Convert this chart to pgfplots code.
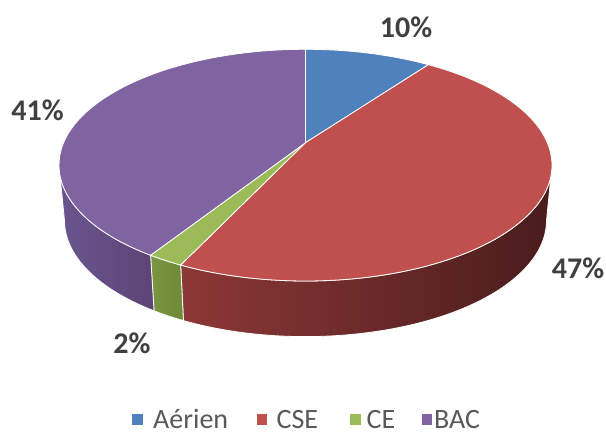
\documentclass[border=0pt]{standalone}
\usepackage{fontspec}
\setmainfont{Carlito}
\usepackage{pgfplots}
\usepackage{pgfplotstable}
\pgfplotsset{compat=1.18}
\definecolor{cA}{HTML}{4F81BD}
\definecolor{cB}{HTML}{C0504D}
\definecolor{cC}{HTML}{9BBB59}
\definecolor{cD}{HTML}{8064A2}
\definecolor{sBl}{HTML}{8C3836}
\definecolor{sBr}{HTML}{4A1C1D}
\definecolor{sCl}{HTML}{7A9640}
\definecolor{sCr}{HTML}{6E8A38}
\definecolor{sDl}{HTML}{6B558F}
\definecolor{sDr}{HTML}{5C4475}
\definecolor{lblgray}{HTML}{404040}
\definecolor{leggray}{HTML}{595959}
\pgfplotstableread{
label value
Aerien 10
CSE 47
CE 2
BAC 41
}\piedata
\pgfplotstablegetelem{0}{value}\of\piedata\pgfmathsetmacro\vA{\pgfplotsretval}%
\pgfplotstablegetelem{1}{value}\of\piedata\pgfmathsetmacro\vB{\pgfplotsretval}%
\pgfplotstablegetelem{2}{value}\of\piedata\pgfmathsetmacro\vC{\pgfplotsretval}%
\pgfplotstablegetelem{3}{value}\of\piedata\pgfmathsetmacro\vD{\pgfplotsretval}%
\pgfmathtruncatemacro\lA{round(\vA)}%
\pgfmathtruncatemacro\lB{round(\vB)}%
\pgfmathtruncatemacro\lC{round(\vC)}%
\pgfmathtruncatemacro\lD{round(\vD)}%
% perspective: angle theta (clockwise from top) -> angle phi on the projected ellipse
\newcommand\phiof[2]{%
  \pgfmathsetmacro\dd{1+0.1938*cos(#1)}%
  \pgfmathsetmacro\xx{241.8*sin(#1)/\dd/246.5}%
  \pgfmathsetmacro\yy{(22.45+111.5*cos(#1)/\dd)/115.85}%
  \pgfmathsetmacro\raw{atan2(\yy,\xx)}%
  \pgfmathsetmacro#2{\raw+360*round(((90-#1)-\raw)/360)}%
}
\pgfmathsetmacro\tAB{3.6*\vA}%
\pgfmathsetmacro\tBC{3.6*(\vA+\vB)}%
\pgfmathsetmacro\tCD{3.6*(\vA+\vB+\vC)}%
\phiof{\tAB}{\pAB}%
\phiof{\tBC}{\pBC}%
\phiof{\tCD}{\pCD}%
% top ellipse: centre (305.5,267.85), radii 246.5, 115.85 ; bottom: (305.5,212.4), 241, 116
\newcommand\topxy[3]{%
  \pgfmathsetmacro#2{305.5+246.5*cos(#1)}%
  \pgfmathsetmacro#3{267.85+115.85*sin(#1)}%
}
\newcommand\botxy[3]{%
  \pgfmathsetmacro#2{305.5+241*cos(#1)}%
  \pgfmathsetmacro#3{212.4+116*sin(#1)}%
}
\topxy{90}{\TxO}{\TyO}%
\topxy{\pAB}{\TxAB}{\TyAB}%
\topxy{\pBC}{\TxBC}{\TyBC}%
\topxy{\pCD}{\TxCD}{\TyCD}%
\topxy{0}{\TxR}{\TyR}%
\botxy{\pBC}{\BxBC}{\ByBC}%
\botxy{\pCD}{\BxCD}{\ByCD}%
\botxy{0}{\BxR}{\ByR}%
\botxy{-180}{\BxL}{\ByL}%
\begin{document}
\begin{tikzpicture}
\begin{axis}[scale only axis, width=606pt, height=433pt,
  xmin=0, xmax=606, ymin=0, ymax=433, hide axis, clip=false]
\path (axis cs:0,0) rectangle (axis cs:606,433);
% side faces
\shade[left color=sBl, right color=sBr, draw=white, line width=0.8pt, line join=round]
  (axis cs:\TxR,\TyR) arc[start angle=0, end angle=\pBC, x radius=246.5pt, y radius=115.85pt]
  -- (axis cs:\BxBC,\ByBC) arc[start angle=\pBC, end angle=0, x radius=241pt, y radius=116pt] -- cycle;
\shade[left color=sCl, right color=sCr, draw=white, line width=0.8pt, line join=round]
  (axis cs:\TxBC,\TyBC) arc[start angle=\pBC, end angle=\pCD, x radius=246.5pt, y radius=115.85pt]
  -- (axis cs:\BxCD,\ByCD) arc[start angle=\pCD, end angle=\pBC, x radius=241pt, y radius=116pt] -- cycle;
\shade[left color=sDl, right color=sDr, draw=white, line width=0.8pt, line join=round]
  (axis cs:\TxCD,\TyCD) arc[start angle=\pCD, end angle=-180, x radius=246.5pt, y radius=115.85pt]
  -- (axis cs:\BxL,\ByL) arc[start angle=-180, end angle=\pCD, x radius=241pt, y radius=116pt] -- cycle;
% top faces
\filldraw[fill=cA, draw=white, line width=0.8pt, line join=round]
  (axis cs:305.5,290.3) -- (axis cs:\TxO,\TyO) arc[start angle=90, end angle=\pAB, x radius=246.5pt, y radius=115.85pt] -- cycle;
\filldraw[fill=cB, draw=white, line width=0.8pt, line join=round]
  (axis cs:305.5,290.3) -- (axis cs:\TxAB,\TyAB) arc[start angle=\pAB, end angle=\pBC, x radius=246.5pt, y radius=115.85pt] -- cycle;
\filldraw[fill=cC, draw=white, line width=0.8pt, line join=round]
  (axis cs:305.5,290.3) -- (axis cs:\TxBC,\TyBC) arc[start angle=\pBC, end angle=\pCD, x radius=246.5pt, y radius=115.85pt] -- cycle;
\filldraw[fill=cD, draw=white, line width=0.8pt, line join=round]
  (axis cs:305.5,290.3) -- (axis cs:\TxCD,\TyCD) arc[start angle=\pCD, end angle=-270, x radius=246.5pt, y radius=115.85pt] -- cycle;
% data labels
\begin{scope}[every node/.style={font=\fontsize{30}{34}\selectfont\bfseries, text=lblgray, inner sep=0pt}]
\node at (axis cs:406,405.5) {\lA\%};
\node at (axis cs:578,165) {\lB\%};
\node at (axis cs:132,90) {\lC\%};
\node at (axis cs:37.5,323) {\lD\%};
\end{scope}
% legend
\fill[cA] (axis cs:132,8) rectangle (axis cs:142.5,19);
\fill[cB] (axis cs:256.5,8) rectangle (axis cs:267,19);
\fill[cC] (axis cs:350,8) rectangle (axis cs:360.5,19);
\fill[cD] (axis cs:421.5,8) rectangle (axis cs:432,19);
\begin{scope}[every node/.style={font=\fontsize{28}{32}\selectfont, text=leggray, inner sep=0pt, anchor=base west}]
\node at (axis cs:153,4.5) {Aérien};
\node at (axis cs:276.5,4.5) {CSE};
\node at (axis cs:366.5,4.5) {CE};
\node at (axis cs:434,4.5) {BAC};
\end{scope}
\end{axis}
\end{tikzpicture}
\end{document}
